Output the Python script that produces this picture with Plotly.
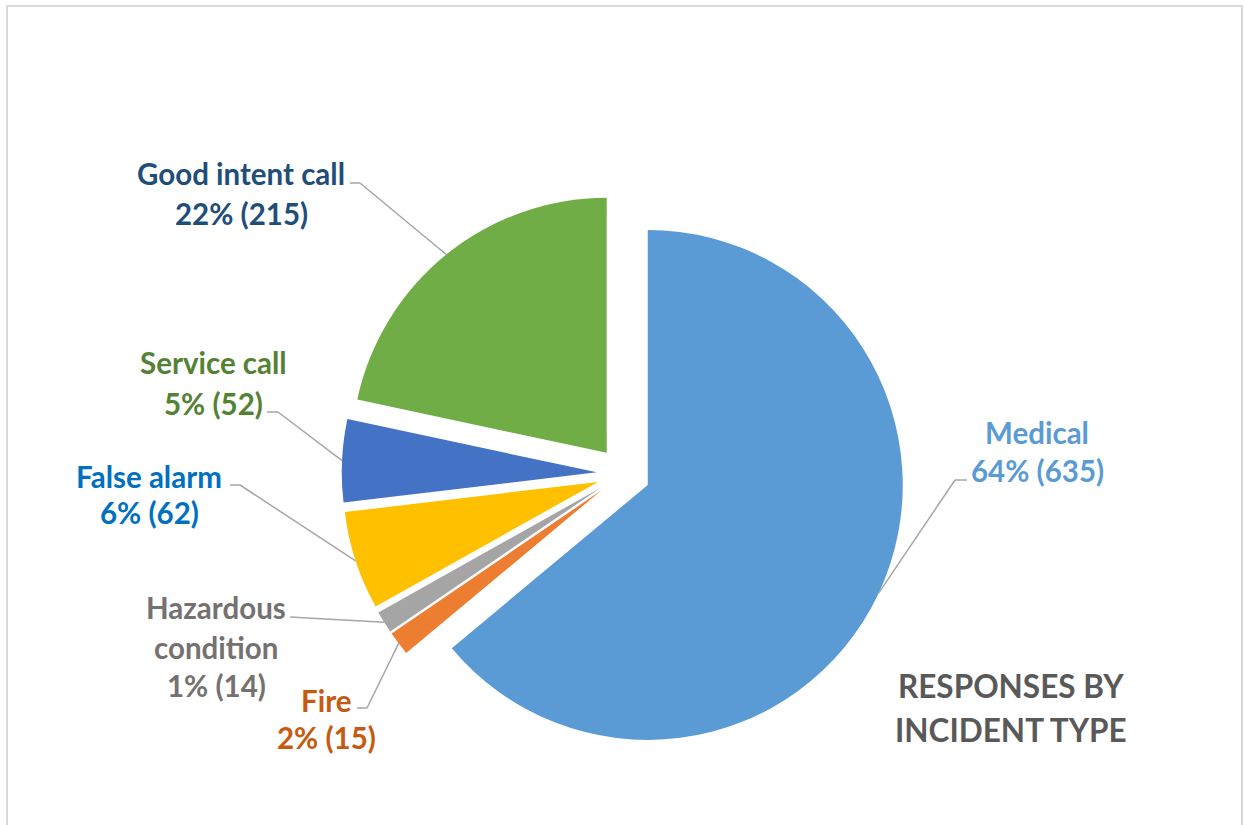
import math
import plotly.graph_objects as go

# ---- data ----
categories = ["Medical", "Fire", "Hazardous condition", "False alarm", "Service call", "Good intent call"]
counts = [635, 15, 14, 62, 52, 215]
percent_labels = ["64%", "2%", "1%", "6%", "5%", "22%"]
slice_colors = ["#5B9BD5", "#ED7D31", "#A5A5A5", "#FFC000", "#4472C4", "#70AD47"]
label_colors = ["#5B9BD5", "#C55A11", "#767171", "#0070C0", "#548235", "#1F4E79"]
label_lines = [
    ["Medical"],
    ["Fire"],
    ["Hazardous", "condition"],
    ["False alarm"],
    ["Service call"],
    ["Good intent call"],
]
title_lines = ["RESPONSES BY", "INCIDENT TYPE"]

# ---- layout constants (pixels) ----
W, H = 1244, 825
PIE_CX, PIE_CY, PIE_R = 623.5, 473.6, 255.0
PULL = 0.105
FONT = "Lato, 'Open Sans', sans-serif"
LBL_SIZE = 29.5
TITLE_SIZE = 31.5

# label placement: x centre, y centres of each text line
label_pos = [
    (1037, [432, 470]),
    (326, [700, 737]),
    (216, [607, 647, 685]),
    (149, [476, 512]),
    (213, [363, 403]),
    (241, [173, 213]),
]
# leader start and elbow (pixels)
leader_pts = [
    [(967, 480), (955, 480)],
    [(357, 708), (367, 708)],
    [(290, 617)],
    [(230, 485), (240, 485)],
    [(267, 412), (278, 412)],
    [(350, 183), (360, 183)],
]


def px(x):
    return x / W


def py(y):
    return 1 - y / H


half = PIE_R * (1 + PULL)
dom_x = [px(PIE_CX - half), px(PIE_CX + half)]
dom_y = [py(PIE_CY + half), py(PIE_CY - half)]

fig = go.Figure(
    go.Pie(
        labels=categories,
        values=counts,
        sort=False,
        direction="clockwise",
        rotation=0,
        pull=[PULL] * len(counts),
        marker=dict(colors=slice_colors, line=dict(color="rgba(0,0,0,0)", width=0)),
        textinfo="none",
        hoverinfo="skip",
        showlegend=False,
        domain=dict(x=dom_x, y=dom_y),
    )
)

annotations = []
shapes = []

# compute slice edge points from the data
total = sum(counts)
cum = 0.0
for i, v in enumerate(counts):
    frac = v / total
    theta = 2 * math.pi * (cum + frac / 2)
    cum += frac
    dx, dy = math.sin(theta), -math.cos(theta)
    ax = PIE_CX + PULL * PIE_R * dx
    ay = PIE_CY + PULL * PIE_R * dy
    ex = ax + PIE_R * dx
    ey = ay + PIE_R * dy
    pts = leader_pts[i] + [(ex, ey)]
    for (x0, y0), (x1, y1) in zip(pts[:-1], pts[1:]):
        shapes.append(dict(type="line", xref="paper", yref="paper",
                           x0=px(x0), y0=py(y0), x1=px(x1), y1=py(y1),
                           line=dict(color="#A6A6A6", width=1.5)))
    lines = label_lines[i] + [f"{percent_labels[i]} ({v})"]
    cx, ys = label_pos[i]
    for t, yy in zip(lines, ys):
        annotations.append(dict(text=f"<b>{t}</b>", x=px(cx), y=py(yy), xref="paper", yref="paper",
                                xanchor="center", yanchor="middle", showarrow=False,
                                font=dict(family=FONT, size=LBL_SIZE, color=label_colors[i])))

for t, yy in zip(title_lines, [686, 730]):
    annotations.append(dict(text=f"<b>{t}</b>", x=px(1011), y=py(yy), xref="paper", yref="paper",
                            xanchor="center", yanchor="middle", showarrow=False,
                            font=dict(family=FONT, size=TITLE_SIZE, color="#595959")))

# outer chart border
shapes.append(dict(type="rect", xref="paper", yref="paper",
                   x0=px(7), x1=px(1242), y0=-0.05, y1=py(6),
                   line=dict(color="#D9D9D9", width=2), fillcolor="rgba(0,0,0,0)", layer="below"))

fig.update_layout(
    width=W, height=H,
    margin=dict(l=0, r=0, t=0, b=0),
    paper_bgcolor="white", plot_bgcolor="white",
    annotations=annotations, shapes=shapes,
)

fig.write_html("out.html", config={"displayModeBar": False},
               post_script="document.body.style.margin='0px';")
